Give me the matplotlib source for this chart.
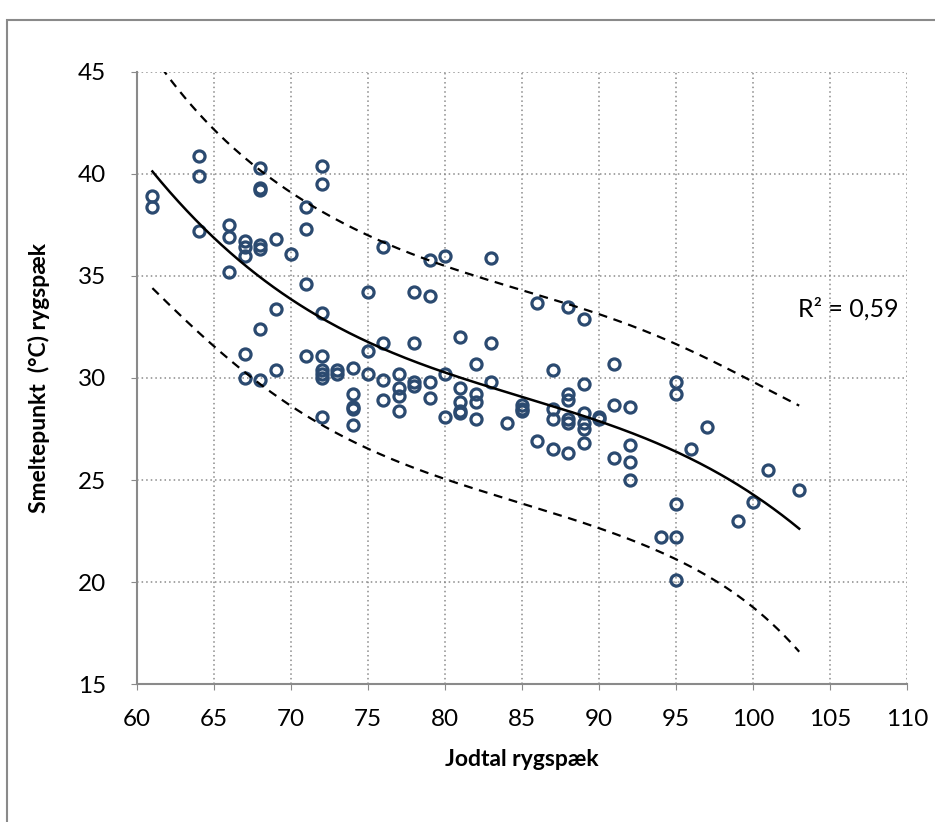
import numpy as np
import matplotlib.pyplot as plt
from matplotlib.patches import Rectangle

jodtal = [61, 61,
          64, 64, 64,
          66, 66, 66,
          67, 67, 67, 67, 67,
          68, 68, 68, 68, 68, 68, 68,
          69, 69, 69,
          70,
          71, 71, 71, 71,
          72, 72, 72, 72, 72, 72, 72, 72,
          73, 73,
          74, 74, 74, 74, 74,
          75, 75, 75,
          76, 76, 76, 76,
          77, 77, 77, 77,
          78, 78, 78, 78,
          79, 79, 79, 79,
          80, 80, 80,
          81, 81, 81, 81, 81,
          82, 82, 82, 82,
          83, 83, 83,
          84,
          85, 85, 85,
          86, 86,
          87, 87, 87, 87,
          88, 88, 88, 88, 88, 88,
          89, 89, 89, 89, 89, 89,
          90, 90,
          91, 91, 91,
          92, 92, 92, 92,
          94,
          95, 95, 95, 95, 95,
          96, 97, 99, 100, 101, 103]

smeltepunkt = [38.9, 38.4,
               40.9, 39.9, 37.2,
               37.5, 36.9, 35.2,
               36.7, 36.4, 36.0, 31.2, 30.0,
               40.3, 39.3, 39.2, 36.5, 36.3, 32.4, 29.9,
               36.8, 33.4, 30.4,
               36.1,
               38.4, 37.3, 34.6, 31.1,
               40.4, 39.5, 33.2, 31.1, 30.4, 30.2, 30.0, 28.1,
               30.4, 30.2,
               30.5, 29.2, 28.6, 28.5, 27.7,
               34.2, 31.3, 30.2,
               36.4, 31.7, 29.9, 28.9,
               30.2, 29.5, 29.1, 28.4,
               34.2, 31.7, 29.8, 29.6,
               35.8, 34.0, 29.8, 29.0,
               36.0, 30.2, 28.1,
               32.0, 29.5, 28.8, 28.4, 28.3,
               30.7, 29.2, 28.8, 28.0,
               35.9, 31.7, 29.8,
               27.8,
               28.7, 28.5, 28.4,
               33.7, 26.9,
               30.4, 28.5, 28.0, 26.5,
               33.5, 29.2, 28.9, 28.0, 27.8, 26.3,
               32.9, 29.7, 28.3, 27.8, 27.5, 26.8,
               28.1, 28.0,
               30.7, 28.7, 26.1,
               28.6, 26.7, 25.9, 25.0,
               22.2,
               29.8, 29.2, 23.8, 22.2, 20.1,
               26.5, 27.6, 23.0, 23.9, 25.5, 24.5]

x_ticks = [60, 65, 70, 75, 80, 85, 90, 95, 100, 105, 110]
y_ticks = [15, 20, 25, 30, 35, 40, 45]

x = np.array(jodtal, dtype=float)
y = np.array(smeltepunkt)

# 3. grads polynomium + forudsigelsesinterval
grad = 3
X = np.vander(x, grad + 1)
coef, *_ = np.linalg.lstsq(X, y, rcond=None)
resid = y - X @ coef
n = len(x)
s = np.sqrt(np.sum(resid**2) / (n - grad - 1))
XtX_inv = np.linalg.inv(X.T @ X)

xs = np.linspace(x.min(), x.max(), 300)
Xs = np.vander(xs, grad + 1)
fit = Xs @ coef
se = s * np.sqrt(1 + np.einsum('ij,jk,ik->i', Xs, XtX_inv, Xs))
t = 1.84
upper = fit + t * se
lower = fit - t * se

plt.rcParams['font.family'] = ['Lato', 'DejaVu Sans']

fig = plt.figure(figsize=(9.35, 8.22), dpi=100)
ax = fig.add_axes([137/935, 1 - 684/822, 770/935, 612/822])

ax.plot(x, y, 'o', ms=8, mfc='none', mec='#2B4A70', mew=2.3, zorder=3)
ax.plot(xs, fit, color='black', lw=1.8, zorder=4)
ax.plot(xs, upper, color='black', lw=1.6, ls=(0, (4, 3)), zorder=4)
ax.plot(xs, lower, color='black', lw=1.6, ls=(0, (4, 3)), zorder=4)

ax.set_xlim(60, 110)
ax.set_ylim(15, 45)
ax.set_xticks(x_ticks)
ax.set_yticks(y_ticks)
ax.grid(True, color='#8a8a8a', ls=(0, (1, 2)), lw=1.1)
ax.set_axisbelow(True)

for side in ['top', 'right']:
    ax.spines[side].set_visible(False)
for side in ['left', 'bottom']:
    ax.spines[side].set_color('#8a8a8a')
    ax.spines[side].set_linewidth(1.5)

ax.tick_params(axis='both', labelsize=17.5, length=4, color='#8a8a8a')
ax.tick_params(axis='x', pad=14)
ax.tick_params(axis='y', pad=18)

ax.set_xlabel('Jodtal rygspæk', fontsize=16.5, fontweight='bold', labelpad=14)
ax.set_ylabel('Smeltepunkt  (°C) rygspæk', fontsize=16.5, fontweight='bold', labelpad=20)

r2 = 1 - np.sum(resid**2) / np.sum((y - y.mean())**2)
ax.text(106.2, 33.4, 'R² = 0,59', fontsize=18, ha='center', va='center')

# ydre ramme
fig.patches.append(Rectangle((7/935, -0.1), 1.2, (822 - 20)/822 + 0.1,
                             transform=fig.transFigure, fill=False,
                             edgecolor='#8a8a8a', lw=1.5))

fig.savefig('out.png', dpi=100)
print(coef, s, r2)
